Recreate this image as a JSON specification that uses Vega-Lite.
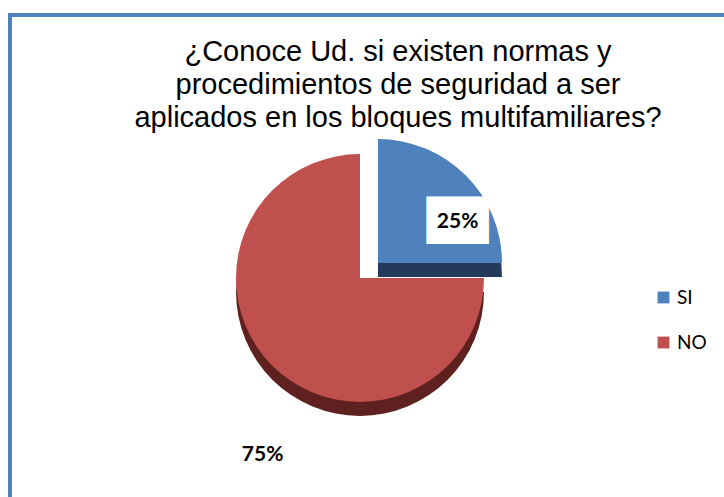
{
  "$schema": "https://vega.github.io/schema/vega-lite/v6.json",
  "autosize": {"type": "none"},
  "width": 720,
  "height": 490,
  "padding": {"left": 10, "top": 15, "right": 0, "bottom": 0},
  "background": "white",
  "config": {"view": {"stroke": "#4F81BD", "strokeWidth": 4}},
  "view": {"stroke": "#4F81BD", "strokeWidth": 4},
  "title": {
    "text": ["¿Conoce Ud. si existen normas y", "procedimientos de seguridad a ser", "aplicados en los bloques multifamiliares?"],
    "font": "Liberation Sans",
    "fontSize": 29,
    "fontWeight": "normal",
    "color": "#000000",
    "lineHeight": 33,
    "anchor": "middle",
    "baseline": "alphabetic",
    "offset": -141,
    "dx": 28
  },
  "data": {"values": [
    {"cat": "SI", "pct": 25, "label": "25%"},
    {"cat": "NO", "pct": 75, "label": "75%"}
  ]},
  "encoding": {
    "theta": {"field": "pct", "type": "quantitative", "stack": true},
    "order": {"field": "cat", "sort": "descending"}
  },
  "layer": [
    {
      "mark": {"type": "arc", "outerRadius": 124, "xOffset": -10, "yOffset": 32, "color": "#5E2120"},
      "encoding": {"opacity": {"condition": {"test": "datum.cat === 'NO'", "value": 1}, "value": 0}}
    },
    {
      "mark": {"type": "arc", "outerRadius": 124, "xOffset": 8, "yOffset": 17, "color": "#243A5C"},
      "encoding": {"opacity": {"condition": {"test": "datum.cat === 'SI'", "value": 1}, "value": 0}}
    },
    {
      "mark": {"type": "arc", "outerRadius": 124, "xOffset": -10, "yOffset": 18},
      "encoding": {
        "color": {"field": "cat", "type": "nominal", "sort": ["SI", "NO"],
          "scale": {"domain": ["SI", "NO"], "range": ["#4F81BD", "#C0504D"]},
          "legend": {"title": null, "orient": "none", "legendX": 644, "legendY": 273, "symbolType": "square", "symbolSize": 140, "symbolStrokeWidth": 0, "labelFont": "Lato", "labelFontSize": 19, "labelColor": "#000000", "rowPadding": 25, "padding": 0, "symbolOpacity": 1}},
        "opacity": {"condition": {"test": "datum.cat === 'NO'", "value": 1}, "value": 0}
      }
    },
    {
      "mark": {"type": "arc", "outerRadius": 124, "xOffset": 8, "yOffset": 3},
      "encoding": {
        "color": {"field": "cat", "type": "nominal", "sort": ["SI", "NO"]},
        "opacity": {"condition": {"test": "datum.cat === 'SI'", "value": 1}, "value": 0}
      }
    },
    {
      "mark": {"type": "text", "radius": 90, "xOffset": 8, "yOffset": 5, "dx": 16, "dy": 21, "text": "██", "fontSize": 40, "font": "DejaVu Sans", "color": "white"},
      "encoding": {"opacity": {"condition": {"test": "datum.cat === 'SI'", "value": 1}, "value": 0}}
    },
    {
      "mark": {"type": "text", "radius": 90, "xOffset": 8, "yOffset": 5, "dx": 16, "dy": 21, "font": "Lato", "fontWeight": "bold", "fontSize": 21, "color": "#000000"},
      "encoding": {
        "text": {"field": "label"},
        "opacity": {"condition": {"test": "datum.cat === 'SI'", "value": 1}, "value": 0}
      }
    },
    {
      "mark": {"type": "text", "radius": 200, "xOffset": -10, "yOffset": 20, "dx": 44, "dy": 34, "font": "Lato", "fontWeight": "bold", "fontSize": 21, "color": "#000000"},
      "encoding": {
        "text": {"field": "label"},
        "opacity": {"condition": {"test": "datum.cat === 'NO'", "value": 1}, "value": 0}
      }
    }
  ]
}
